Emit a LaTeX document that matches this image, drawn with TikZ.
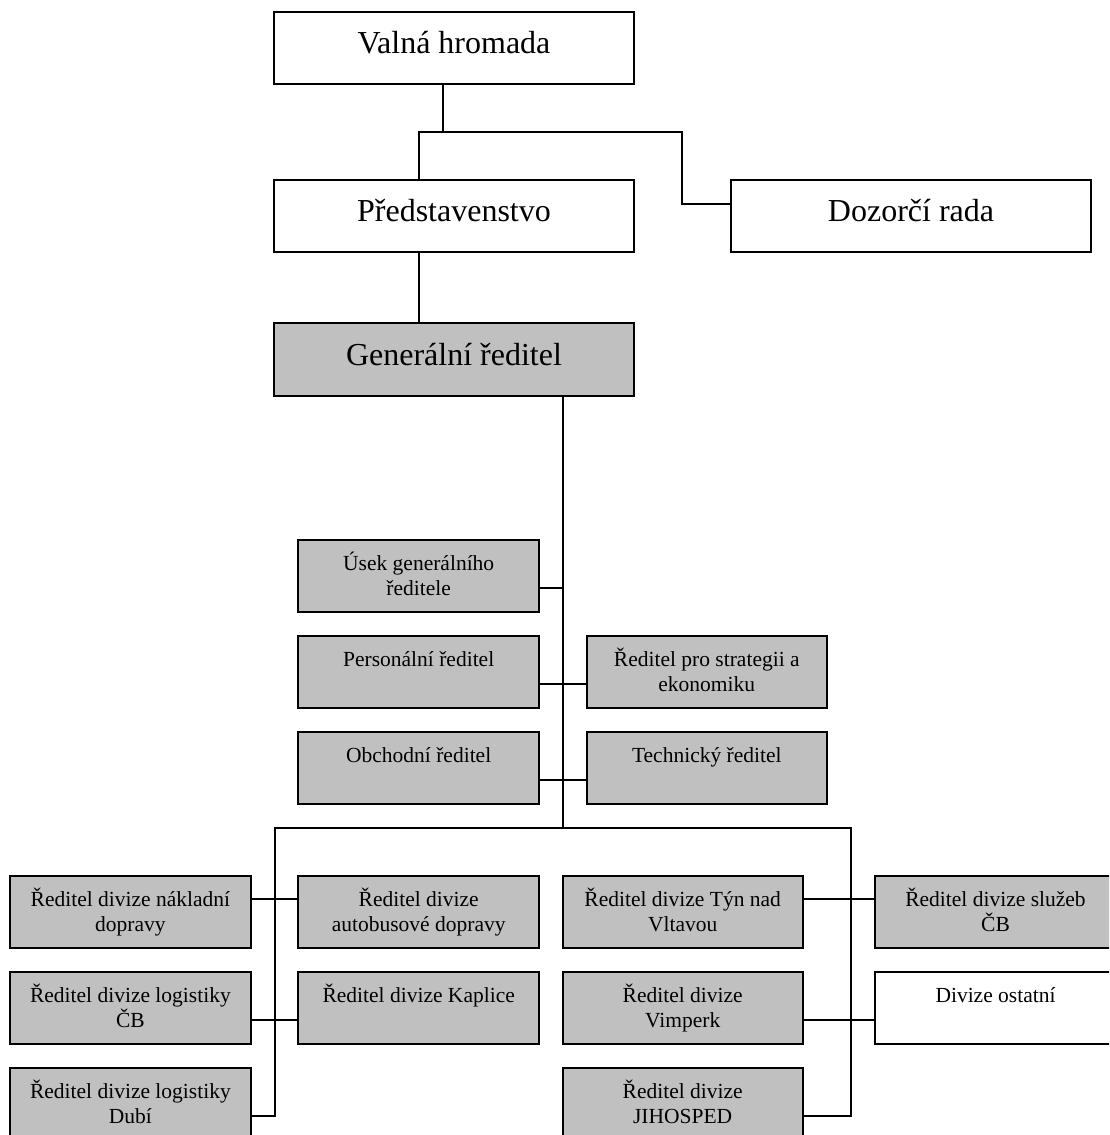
\documentclass[tikz,border=0pt]{standalone}
\usepackage{fontspec}
\setmainfont{Liberation Serif}
\definecolor{boxgray}{RGB}{192,192,192}
\begin{document}
\begin{tikzpicture}[x=1pt,y=-1pt,
  box/.style={draw=black, line width=2pt, inner sep=0pt, align=center},
  bigbox/.style={box, minimum width=360pt, minimum height=72pt, text height=22pt, text depth=11pt, font=\fontsize{32}{38}\selectfont},
  smallbox/.style={box, fill=boxgray, minimum width=241pt, minimum height=72pt, text height=17pt, text depth=28pt, font=\fontsize{21.5}{25}\selectfont},
  twoline/.style={text height=42pt, text depth=3pt},
  conn/.style={line width=1.7pt}]
\fill[white] (0,0) rectangle (1109,1135);
\useasboundingbox (0,0) rectangle (1109,1135);
\clip (0,0) rectangle (1109,1135);

\node[bigbox] (valna) at (454,47.5) {Valná hromada};
\node[bigbox] (pred) at (454,216) {Představenstvo};
\node[bigbox] (dozor) at (911,216) {Dozorčí rada};
\node[bigbox, fill=boxgray, minimum height=72.7pt] (gen) at (454,359.7) {Generální ředitel};

\node[smallbox, twoline] (usek) at (418.7,576) {Úsek generálního\\ředitele};
\node[smallbox] (pers) at (418.7,672) {Personální ředitel};
\node[smallbox, twoline, minimum width=240pt] (strat) at (706.8,672) {Ředitel pro strategii a\\ekonomiku};
\node[smallbox] (obch) at (418.7,768) {Obchodní ředitel};
\node[smallbox, minimum width=240pt] (tech) at (706.8,768) {Technický ředitel};
\node[smallbox, twoline] (nakl) at (130.4,912) {Ředitel divize nákladní\\dopravy};
\node[smallbox, twoline] (auto) at (418.7,912) {Ředitel divize\\autobusové dopravy};
\node[smallbox, twoline] (logcb) at (130.4,1008) {Ředitel divize logistiky\\ČB};
\node[smallbox] (kapl) at (418.7,1008) {Ředitel divize Kaplice};
\node[smallbox, twoline] (dubi) at (130.4,1104) {Ředitel divize logistiky\\Dubí};
\node[smallbox, twoline, minimum width=240pt] (tyn) at (682.7,912) {Ředitel divize Týn nad\\Vltavou};
\node[smallbox, twoline, minimum width=240pt] (vimp) at (682.7,1008) {Ředitel divize\\Vimperk};
\node[smallbox, twoline, minimum width=240pt] (jiho) at (682.7,1104) {Ředitel divize\\JIHOSPED};
\node[smallbox, twoline] (sluz) at (995.5,912) {Ředitel divize služeb\\ČB};
\node[smallbox, fill=white] (ost) at (995.5,1008) {Divize ostatní};

\coordinate (jv) at (443,132);
\coordinate (jl) at (419,132);
\coordinate (jr) at (682,132);
\coordinate (hub) at (563,828);
\coordinate (lsp) at (275,828);
\coordinate (rsp) at (851,828);

\draw[conn] (valna.south -| jv) -- (jv);
\draw[conn] (pred.north -| jl) -- (jl) -- (jr) |- ([yshift=12pt]dozor.west);
\draw[conn] (pred.south -| jl) -- (gen.north -| jl);
\draw[conn] (gen.south -| hub) -- (hub);
\draw[conn] ([yshift=-12pt]usek.east) -- ([yshift=-12pt]usek.east -| hub);
\draw[conn] ([yshift=-12pt]pers.east) -- ([yshift=-12pt]strat.west);
\draw[conn] ([yshift=-12pt]obch.east) -- ([yshift=-12pt]tech.west);
\draw[conn] ([yshift=-12pt]dubi.east) -| (lsp) -- (rsp) |- ([yshift=-12pt]jiho.east);
\draw[conn] ([yshift=13pt]nakl.east) -- ([yshift=13pt]auto.west);
\draw[conn] ([yshift=-12pt]logcb.east) -- ([yshift=-12pt]kapl.west);
\draw[conn] ([yshift=13pt]tyn.east) -- ([yshift=13pt]sluz.west);
\draw[conn] ([yshift=-12pt]vimp.east) -- ([yshift=-12pt]ost.west);
\end{tikzpicture}
\end{document}
